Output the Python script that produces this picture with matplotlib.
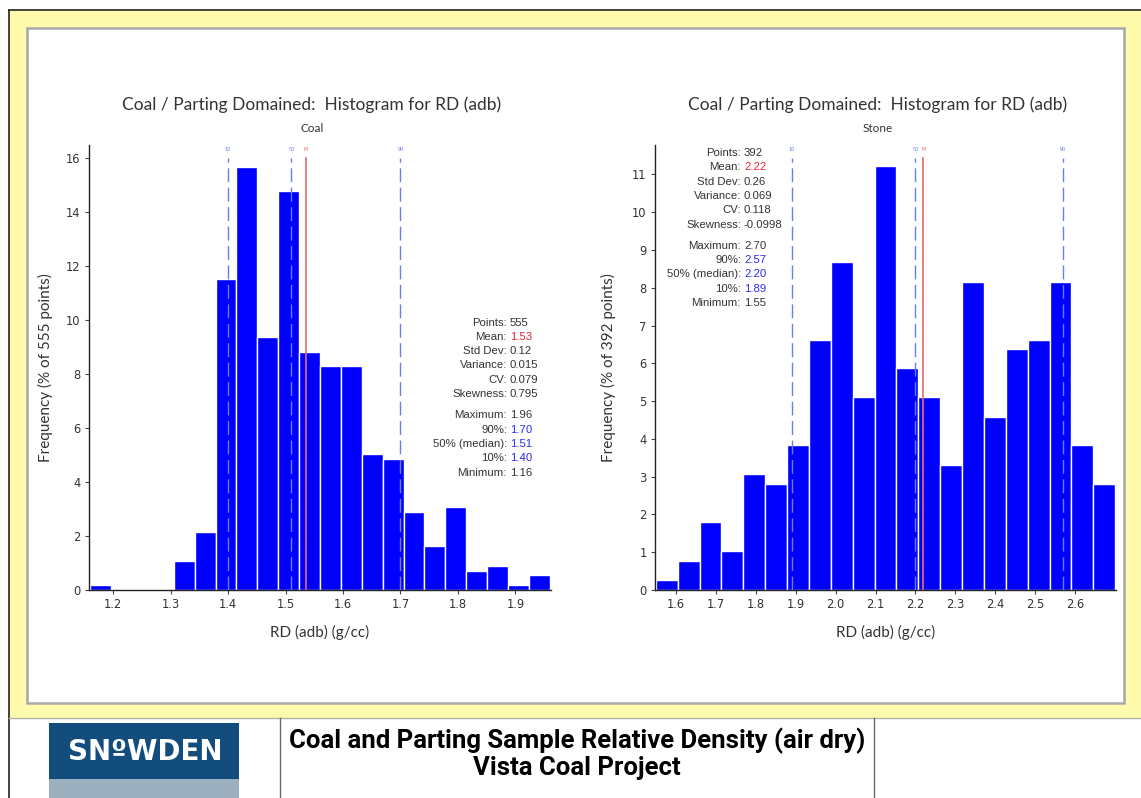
import numpy as np
import matplotlib
matplotlib.use("Agg")
import matplotlib.pyplot as plt
from matplotlib.patches import Rectangle

# ---------------- data ----------------
title = "Coal / Parting Domained:  Histogram for RD (adb)"
xlabel = "RD (adb) (g/cc)"

coal_range = (1.16, 1.96)
coal_pct = [0.18, 0, 0, 0, 1.08, 2.16, 11.53, 15.68, 9.37, 14.77, 8.83,
            8.29, 8.29, 5.05, 4.86, 2.88, 1.62, 3.06, 0.72, 0.90, 0.18, 0.54]
coal_xticks = [1.2, 1.3, 1.4, 1.5, 1.6, 1.7, 1.8, 1.9]
coal_yticks = [0, 2, 4, 6, 8, 10, 12, 14, 16]
coal_lines = {"10": 1.40, "50": 1.51, "M": 1.535, "90": 1.70}
coal_stats_a = [("Points", "555"), ("Mean", "1.53"), ("Std Dev", "0.12"),
                ("Variance", "0.015"), ("CV", "0.079"), ("Skewness", "0.795")]
coal_stats_b = [("Maximum", "1.96"), ("90%", "1.70"), ("50% (median)", "1.51"),
                ("10%", "1.40"), ("Minimum", "1.16")]

stone_range = (1.55, 2.70)
stone_pct = [0.26, 0.77, 1.79, 1.02, 3.06, 2.81, 3.83, 6.63, 8.67, 5.10, 11.22,
             5.87, 5.10, 3.32, 8.16, 4.59, 6.38, 6.63, 8.16, 3.83, 2.81]
stone_xticks = [1.6, 1.7, 1.8, 1.9, 2.0, 2.1, 2.2, 2.3, 2.4, 2.5, 2.6]
stone_yticks = list(range(0, 12))
stone_lines = {"10": 1.89, "50": 2.20, "M": 2.22, "90": 2.57}
stone_stats_a = [("Points", "392"), ("Mean", "2.22"), ("Std Dev", "0.26"),
                 ("Variance", "0.069"), ("CV", "0.118"), ("Skewness", "-0.0998")]
stone_stats_b = [("Maximum", "2.70"), ("90%", "2.57"), ("50% (median)", "2.20"),
                 ("10%", "1.89"), ("Minimum", "1.55")]

# ---------------- figure ----------------
W, H = 1141, 798
fig = plt.figure(figsize=(W / 100, H / 100), dpi=100, facecolor="white")
bg = fig.add_axes([0, 0, 1, 1], zorder=0)
bg.set_xlim(0, W)
bg.set_ylim(H, 0)
bg.axis("off")

YELLOW = "#fefcac"
# yellow frame
bg.add_patch(Rectangle((9, 10), W - 9 + 5, 708, facecolor=YELLOW, edgecolor="none"))
bg.plot([9, W], [10, 10], color="#222222", lw=1.2)
bg.plot([9, 9], [10, H], color="#222222", lw=1.2)
# inner white panel
bg.add_patch(Rectangle((27, 28), 1097, 675, facecolor="white", edgecolor="#a8a8a8", lw=1.8))
# banner
bg.plot([9, W], [718, 718], color="#b0b0b0", lw=1.0)
bg.plot([280, 280], [718, H], color="#666666", lw=1.0)
bg.plot([874, 874], [718, H], color="#666666", lw=1.0)
bg.add_patch(Rectangle((49, 723), 190, 56, facecolor="#134d7d", edgecolor="none"))
bg.add_patch(Rectangle((49, 779), 190, 22, facecolor="#9db0c0", edgecolor="none"))
bg.text(145, 752, "SN\u00baWDEN", color="white", fontsize=20, fontweight="bold",
        family="DejaVu Sans", ha="center", va="center")
bg.text(577, 741, "Coal and Parting Sample Relative Density (air dry)",
        fontsize=18.5, fontweight="bold", family=["Liberation Sans Narrow", "Roboto"],
        ha="center", va="center", color="black")
bg.text(577, 768, "Vista Coal Project", fontsize=18.5, fontweight="bold",
        family=["Liberation Sans Narrow", "Roboto"], ha="center", va="center",
        color="black")

TXT = "#333333"
BLUE_L = "#6a7cf0"
RED_L = "#e46b6b"
STAT_RED = "#e8263a"
STAT_BLUE = "#2c2cf0"
SFS = 8.2


def make_panel(px, py, pw, ph, rng, pct, xticks, yticks, ytop, lines,
               sub, npts, stats_a, stats_b, colon_x, stat_y0, ylab_x):
    ax = fig.add_axes([px / W, 1 - (py + ph) / H, pw / W, ph / H], zorder=2)
    ax.set_facecolor("none")
    edges = np.linspace(rng[0], rng[1], len(pct) + 1)
    ax.bar(edges[:-1], pct, width=np.diff(edges), align="edge",
           color="#0000ff", edgecolor="white", linewidth=1.0, zorder=2)
    ax.set_xlim(rng[0] - 0.002, rng[1] + 0.002)
    ax.set_ylim(0, ytop)
    ax.set_xticks(xticks)
    ax.set_xticklabels([f"{t:.1f}" for t in xticks])
    ax.set_yticks(yticks)
    for s in ("top", "right"):
        ax.spines[s].set_visible(False)
    for s in ("left", "bottom"):
        ax.spines[s].set_color("#222222")
        ax.spines[s].set_linewidth(1.0)
    ax.tick_params(length=3, width=0.8, color="#444444", labelsize=8.3,
                   labelcolor=TXT, pad=3)
    for lab in ax.get_xticklabels() + ax.get_yticklabels():
        lab.set_family("DejaVu Sans")
    # percentile / mean lines
    ytopline = 0.971
    for name, xv in lines.items():
        if name == "M":
            ax.plot([xv, xv], [0, ytopline], color=RED_L, lw=1.2,
                    transform=ax.get_xaxis_transform(), zorder=3)
            col = RED_L
        else:
            ax.plot([xv, xv], [0, ytopline], color=BLUE_L, lw=1.0,
                    dashes=(10, 4), transform=ax.get_xaxis_transform(), zorder=3)
            col = BLUE_L
        ax.text(xv, 0.991, name, fontsize=3.5, color=col, ha="center", va="center",
                transform=ax.get_xaxis_transform())
    # titles
    cx = px + pw / 2
    bg.text(cx - 8, 105, title, fontsize=12.5, family="Lato", color=TXT,
            ha="center", va="center")
    bg.text(cx - 8, 128, sub, fontsize=8.5, family="Lato", color=TXT,
            ha="center", va="center")
    bg.text(cx, 632, xlabel, fontsize=11, family="Lato", color=TXT,
            ha="center", va="center")
    bg.text(ylab_x, 368, f"Frequency (% of {npts} points)", fontsize=11,
            family="Lato", color=TXT, ha="center", va="center", rotation=90)
    # stats
    y = stat_y0
    for k, v in stats_a:
        vcol = STAT_RED if k == "Mean" else TXT
        bg.text(colon_x, y, k + ":", fontsize=SFS, family="Liberation Sans",
                color=TXT, ha="right", va="center", zorder=5)
        bg.text(colon_x + 3, y, v, fontsize=SFS, family="Liberation Sans",
                color=vcol, ha="left", va="center", zorder=5)
        y += 14.3
    y += 7
    for k, v in stats_b:
        vcol = STAT_BLUE if "%" in k else TXT
        bg.text(colon_x, y, k + ":", fontsize=SFS, family="Liberation Sans",
                color=TXT, ha="right", va="center", zorder=5)
        bg.text(colon_x + 3, y, v, fontsize=SFS, family="Liberation Sans",
                color=vcol, ha="left", va="center", zorder=5)
        y += 14.3
    return ax


make_panel(89, 145, 462, 445, coal_range, coal_pct, coal_xticks, coal_yticks,
           16.48, coal_lines, "Coal", 555, coal_stats_a, coal_stats_b,
           507, 322.5, 45)
make_panel(655, 145, 461, 445, stone_range, stone_pct, stone_xticks, stone_yticks,
           11.78, stone_lines, "Stone", 392, stone_stats_a, stone_stats_b,
           741, 153, 608)

fig.savefig("out.png", dpi=100, facecolor="white")
